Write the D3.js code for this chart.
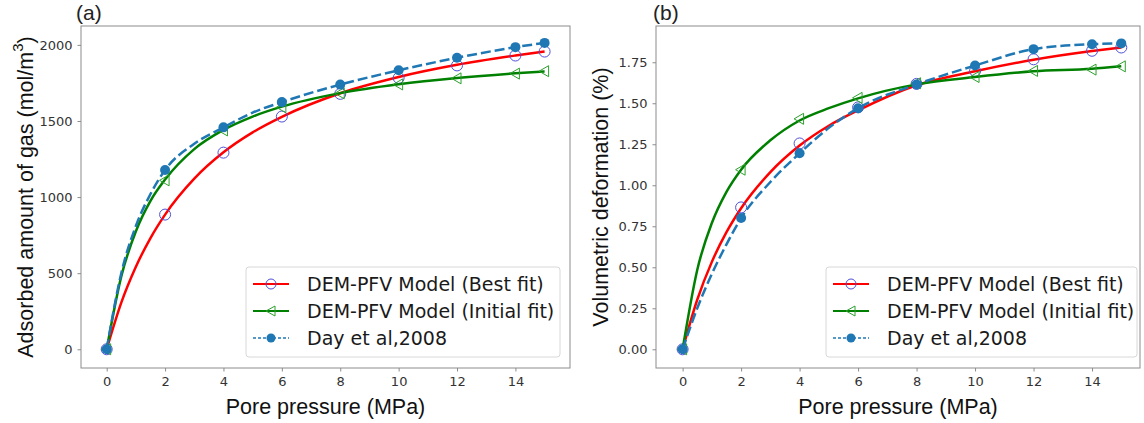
<!DOCTYPE html>
<html>
<head>
<meta charset="utf-8">
<script src="https://cdn.jsdelivr.net/npm/d3@7"></script>
<style>
  body { margin: 0; background: #fff; }
  svg { font-family: "DejaVu Sans", sans-serif; }
  .lbl { font-family: "Liberation Sans", Arial, sans-serif; }
</style>
</head>
<body>
<svg id="chart" width="1144" height="423"></svg>
<script>
// measured pressures (MPa)
var pressure = [0, 2, 4, 6, 8, 10, 12, 14, 15];
// samples along the drawn curves
var curveP = [0, 0.5, 1, 1.5, 2, 3, 4, 5, 6, 8, 10, 12, 14, 15];

// (a) adsorbed gas, mol/m3
var gasDay  = [0, 1178, 1458, 1624, 1739, 1833, 1915, 1985, 2013];
var gasBest = [0, 885, 1292, 1529, 1678, 1783, 1865, 1930, 1956];
var gasInit = [0, 1110, 1438, 1590, 1682, 1740, 1780, 1811, 1827];
var gasBestCurve = [0, 306, 542, 731, 885, 1121, 1294, 1425, 1527, 1682, 1789, 1869, 1930, 1957];
var gasInitCurve = [0, 479, 775, 975, 1115, 1315, 1441, 1529, 1594, 1683, 1741, 1782, 1813, 1826];
var gasDayCurve  = [0, 500, 810, 1020, 1178, 1350, 1458, 1555, 1624, 1739, 1833, 1915, 1985, 2013];

// (b) volumetric deformation, %
var volDay  = [0, 0.80, 1.195, 1.47, 1.615, 1.73, 1.83, 1.86, 1.865];
var volBest = [0, 0.865, 1.255, 1.475, 1.618, 1.697, 1.768, 1.82, 1.84];
var volInit = [0, 1.095, 1.405, 1.533, 1.622, 1.66, 1.697, 1.705, 1.725];
var volBestCurve = [0, 0.302, 0.533, 0.714, 0.86, 1.08, 1.242, 1.363, 1.457, 1.61, 1.695, 1.765, 1.818, 1.84];
var volInitCurve = [0, 0.484, 0.77, 0.96, 1.095, 1.274, 1.395, 1.47, 1.53, 1.615, 1.66, 1.695, 1.71, 1.725];
var volDayCurve  = [0, 0.25, 0.46, 0.64, 0.80, 1.02, 1.195, 1.35, 1.47, 1.615, 1.73, 1.83, 1.86, 1.865];

var xTicks = [0, 2, 4, 6, 8, 10, 12, 14];
var gasTicks = [0, 500, 1000, 1500, 2000];
var volTicks = [0, 0.25, 0.5, 0.75, 1.0, 1.25, 1.5, 1.75];
var legendLabels = ["DEM-PFV Model (Best fit)", "DEM-PFV Model (Initial fit)", "Day et al,2008"];

var svg = d3.select("#chart");
var frameColor = "#8c8c8c";

function panel(o) {
  var x = d3.scaleLinear().domain(o.xDomain).range([o.left, o.right]);
  var y = d3.scaleLinear().domain(o.yDomain).range([o.bottom, o.top]);
  var g = svg.append("g");

  g.append("clipPath").attr("id", o.id + "-clip")
    .append("rect").attr("x", o.left).attr("y", o.top)
    .attr("width", o.right - o.left).attr("height", o.bottom - o.top);

  // axes
  var ax = g.append("g").attr("transform", "translate(0," + o.bottom + ")")
    .call(d3.axisBottom(x).tickValues(xTicks).tickSize(3.5).tickPadding(5));
  var ay = g.append("g").attr("transform", "translate(" + o.left + ",0)")
    .call(d3.axisLeft(y).tickValues(o.yTicks).tickFormat(o.fmt).tickSize(3.5).tickPadding(5));
  [ax, ay].forEach(function (a) {
    a.select(".domain").remove();
    a.selectAll(".tick line").attr("stroke", frameColor);
    a.selectAll(".tick text").attr("font-size", 13).attr("fill", "#333")
      .attr("font-family", "DejaVu Sans, sans-serif");
  });

  g.append("rect").attr("x", o.left).attr("y", o.top)
    .attr("width", o.right - o.left).attr("height", o.bottom - o.top)
    .attr("fill", "none").attr("stroke", frameColor).attr("stroke-width", 1);

  var plot = g.append("g").attr("clip-path", "url(#" + o.id + "-clip)");
  var line = d3.line().curve(d3.curveMonotoneX)
    .x(function (d) { return x(d[0]); }).y(function (d) { return y(d[1]); });
  function pairs(xs, ys) { return xs.map(function (v, i) { return [v, ys[i]]; }); }

  plot.append("path").datum(pairs(curveP, o.bestCurve)).attr("d", line)
    .attr("fill", "none").attr("stroke", "#f00").attr("stroke-width", 2.5);
  plot.append("g").selectAll("circle").data(pairs(pressure, o.best)).enter().append("circle")
    .attr("cx", function (d) { return x(d[0]); }).attr("cy", function (d) { return y(d[1]); })
    .attr("r", 5.5).attr("fill", "none").attr("stroke", "#5050d8").attr("stroke-width", 1);

  plot.append("path").datum(pairs(curveP, o.initCurve)).attr("d", line)
    .attr("fill", "none").attr("stroke", "#008000").attr("stroke-width", 2.5);
  plot.append("g").selectAll("path").data(pairs(pressure, o.init)).enter().append("path")
    .attr("d", "M-5.5,0L4,-5.5L4,5.5Z")
    .attr("transform", function (d) { return "translate(" + x(d[0]) + "," + y(d[1]) + ")"; })
    .attr("fill", "none").attr("stroke", "#2ca02c").attr("stroke-width", 1);

  plot.append("path").datum(pairs(curveP, o.dayCurve)).attr("d", line)
    .attr("fill", "none").attr("stroke", "#1f77b4").attr("stroke-width", 2.5)
    .attr("stroke-dasharray", "10,4");
  plot.append("g").selectAll("circle").data(pairs(pressure, o.day)).enter().append("circle")
    .attr("cx", function (d) { return x(d[0]); }).attr("cy", function (d) { return y(d[1]); })
    .attr("r", 5).attr("fill", "#1f77b4");

  // labels
  g.append("text").attr("class", "lbl").attr("x", o.panelX).attr("y", 20)
    .attr("font-size", 21).attr("fill", "#222").text(o.tag);
  g.append("text").attr("class", "lbl").attr("x", (o.left + o.right) / 2).attr("y", 414)
    .attr("text-anchor", "middle").attr("font-size", 21.5).attr("fill", "#111")
    .text("Pore pressure (MPa)");
  var yl = g.append("text").attr("class", "lbl")
    .attr("transform", "translate(" + o.yLabelX + "," + (o.top + o.bottom) / 2 + ") rotate(-90)")
    .attr("text-anchor", "middle").attr("font-size", 21.5).attr("fill", "#111");
  o.yLabel(yl);

  // legend
  var lg = g.append("g").attr("transform", "translate(" + o.legX + ",267)");
  lg.append("rect").attr("width", o.legW).attr("height", 90).attr("rx", 3)
    .attr("fill", "#fff").attr("fill-opacity", 0.85).attr("stroke", "#d8d8d8");
  legendLabels.forEach(function (lab, i) {
    var cy = 17 + i * 27;
    var row = lg.append("g").attr("transform", "translate(0," + cy + ")");
    if (i === 0) {
      row.append("line").attr("x1", 7).attr("x2", 43).attr("stroke", "#f00").attr("stroke-width", 2);
      row.append("circle").attr("cx", 25).attr("r", 5).attr("fill", "none").attr("stroke", "#5050d8");
    } else if (i === 1) {
      row.append("line").attr("x1", 7).attr("x2", 43).attr("stroke", "#008000").attr("stroke-width", 2);
      row.append("path").attr("d", "M-5,0L4,-5L4,5Z").attr("transform", "translate(25,0)")
        .attr("fill", "none").attr("stroke", "#2ca02c");
    } else {
      row.append("line").attr("x1", 7).attr("x2", 43).attr("stroke", "#1f77b4")
        .attr("stroke-width", 1.3).attr("stroke-dasharray", "3,2");
      row.append("circle").attr("cx", 25).attr("r", 4.5).attr("fill", "#1f77b4");
    }
    row.append("text").attr("x", 61).attr("y", 7).attr("font-size", 19).attr("fill", "#1a1a1a").text(lab);
  });
}

panel({
  id: "pa", tag: "(a)", panelX: 76,
  left: 81, right: 570, top: 26, bottom: 368,
  xDomain: [-0.88, 15.87], yDomain: [-123, 2124],
  yTicks: gasTicks, fmt: d3.format("d"),
  best: gasBest, init: gasInit, day: gasDay,
  bestCurve: gasBestCurve, initCurve: gasInitCurve, dayCurve: gasDayCurve,
  yLabelX: 33, legX: 246, legW: 314,
  yLabel: function (t) {
    t.append("tspan").text("Adsorbed amount of gas (mol/m");
    t.append("tspan").attr("font-size", 15).attr("dy", -10).text("3");
    t.append("tspan").attr("dy", 10).text(")");
  }
});

panel({
  id: "pb", tag: "(b)", panelX: 653,
  left: 656, right: 1140, top: 26, bottom: 368,
  xDomain: [-0.91, 15.64], yDomain: [-0.114, 1.971],
  yTicks: volTicks, fmt: d3.format(".2f"),
  best: volBest, init: volInit, day: volDay,
  bestCurve: volBestCurve, initCurve: volInitCurve, dayCurve: volDayCurve,
  yLabelX: 608, legX: 826, legW: 311,
  yLabel: function (t) { t.text("Volumetric deformation (%)"); }
});
</script>
</body>
</html>
